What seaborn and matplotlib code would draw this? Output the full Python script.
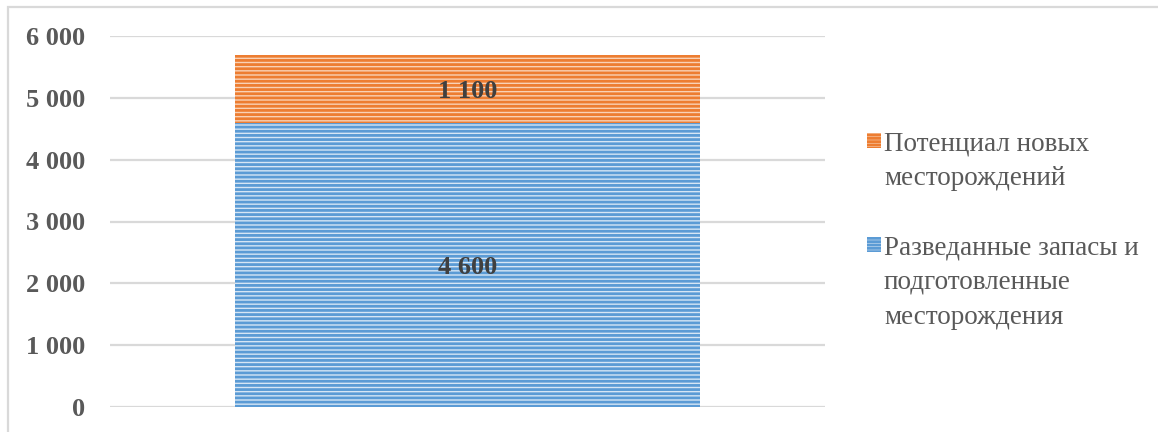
import matplotlib
matplotlib.use('Agg')
import matplotlib.pyplot as plt
from matplotlib.patches import Rectangle
import seaborn as sns
import pandas as pd

# ── Data ─────────────────────────────────────────────────────────────────────
CATEGORIES = ['']
EXPLORED   = [4600]   # Разведанные запасы и подготовленные месторождения
POTENTIAL  = [1100]   # Потенциал новых месторождений
SERIES     = ['Потенциал новых\nместорождений',
              'Разведанные запасы и\nподготовленные\nместорождения']
Y_TICKS    = [0, 1000, 2000, 3000, 4000, 5000, 6000]

ORANGE_EDGE, ORANGE_FACE = '#ED7D31', '#F9D2B6'
BLUE_EDGE,   BLUE_FACE   = '#5B9BD5', '#D6E6F5'
GRID = '#D9D9D9'
TXT  = '#595959'

W, H = 1158, 432

sns.set_style('white')
plt.rcParams['font.family'] = ['Liberation Serif', 'DejaVu Serif']
plt.rcParams['hatch.linewidth'] = 2.0

df = pd.DataFrame({'cat': CATEGORIES,
                   'explored': EXPLORED,
                   'total': [e + p for e, p in zip(EXPLORED, POTENTIAL)]})

fig = plt.figure(figsize=(W / 100, H / 100), dpi=100)
ax = fig.add_axes([110 / W, 25 / H, 715 / W, 371 / H])

# stacked bars: total (orange) behind explored (blue)
sns.barplot(data=df, x='cat', y='total', color=ORANGE_FACE, width=0.65,
            ax=ax, saturation=1)
n_top = len(ax.patches)
sns.barplot(data=df, x='cat', y='explored', color=BLUE_FACE, width=0.65,
            ax=ax, saturation=1)
for i, p in enumerate(ax.patches):
    p.set_hatch('----')
    p.set_edgecolor(ORANGE_EDGE if i < n_top else BLUE_EDGE)
    p.set_linewidth(0)

ax.set_ylim(0, 6000)
ax.set_xlim(-0.5, 0.5)
ax.set_yticks(Y_TICKS)
ax.set_yticklabels([f'{v:,}'.replace(',', ' ') for v in Y_TICKS],
                   fontsize=19, fontweight='bold', color=TXT)
ax.tick_params(axis='y', length=0, pad=18)
ax.set_xticks([])
ax.set_xlabel(''); ax.set_ylabel('')
ax.yaxis.grid(True, color=GRID, linewidth=1.6)
ax.set_axisbelow(True)
sns.despine(ax=ax, left=True, bottom=True)

# value labels in the middle of each segment
for i, (e, p) in enumerate(zip(EXPLORED, POTENTIAL)):
    ax.text(i, e / 2, f'{e:,}'.replace(',', ' '), ha='center',
            va='center_baseline', fontsize=19, fontweight='bold', color='#404040')
    ax.text(i, e + p / 2, f'{p:,}'.replace(',', ' '), ha='center',
            va='center_baseline', fontsize=19, fontweight='bold', color='#404040')

# legend (first line aligned with the swatch, like the original)
for label, face, edge, sq_top in [(SERIES[0], ORANGE_FACE, ORANGE_EDGE, 133),
                                  (SERIES[1], BLUE_FACE, BLUE_EDGE, 237)]:
    fig.patches.append(Rectangle((867 / W, (H - sq_top - 15) / H), 14 / W, 15 / H,
                                 transform=fig.transFigure, facecolor=face,
                                 edgecolor=edge, hatch='-----', linewidth=0))
    fig.text(884 / W, (H - sq_top + 2) / H, label, fontsize=19.5, color=TXT,
             ha='left', va='top', linespacing=1.52)

# outer chart border
fig.patches.append(Rectangle((8 / W, -0.1), 1.2, (H - 7) / H + 0.1,
                             transform=fig.transFigure, fill=False,
                             edgecolor=GRID, linewidth=1.6))

fig.savefig('out.png', dpi=100)
